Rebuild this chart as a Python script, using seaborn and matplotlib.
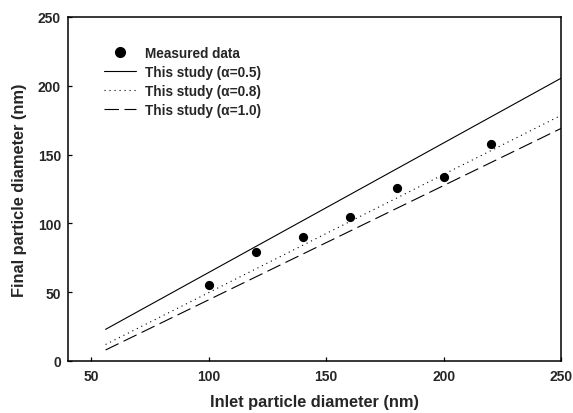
import matplotlib
matplotlib.use("Agg")
import matplotlib.pyplot as plt
import seaborn as sns
import pandas as pd
from matplotlib.lines import Line2D

# Data
meas_x = [100, 120, 140, 160, 180, 200, 220]
meas_y = [55, 79, 90, 105, 126, 134, 158]

line_x = [56, 250]
alpha05_y = [23, 205.5]
alpha08_y = [12, 178.5]
alpha10_y = [8, 169]

labels = ["Measured data", "This study (\u03b1=0.5)", "This study (\u03b1=0.8)", "This study (\u03b1=1.0)"]

sns.set_theme(style="ticks")
plt.rcParams['font.family'] = ['Liberation Sans', 'DejaVu Sans']
plt.rcParams['font.weight'] = 'bold'

fig = plt.figure(figsize=(5.73, 4.14), dpi=100)
ax = fig.add_axes([68/573, 1 - 362/414, (561-68)/573, (362-18)/414])

lines_df = pd.DataFrame({
    "x": line_x * 3,
    "y": alpha05_y + alpha08_y + alpha10_y,
    "series": [labels[1]] * 2 + [labels[2]] * 2 + [labels[3]] * 2,
})
dashes = {labels[1]: "", labels[2]: (1, 3.5), labels[3]: (13, 5)}
sns.lineplot(data=lines_df, x="x", y="y", style="series", dashes=dashes,
             color="black", linewidth=0.8, ax=ax, legend=False, sort=False)

meas_df = pd.DataFrame({"x": meas_x, "y": meas_y})
sns.scatterplot(data=meas_df, x="x", y="y", color="black", s=44,
                edgecolor="black", linewidth=0, ax=ax, legend=False, zorder=5)

ax.set_xlim(40, 250)
ax.set_ylim(0, 250)
ax.set_xticks([50, 100, 150, 200, 250])
ax.set_yticks([0, 50, 100, 150, 200, 250])

for s in ax.spines.values():
    s.set_linewidth(1.1)
    s.set_color("black")
ax.tick_params(direction="in", length=3, width=0.9, labelsize=10, color="black")
ax.tick_params(axis="x", pad=6)
ax.tick_params(axis="y", pad=5)
for t in ax.get_xticklabels() + ax.get_yticklabels():
    t.set_fontweight("bold")

ax.set_xlabel("Inlet particle diameter (nm)", fontsize=11.8, fontweight="bold", labelpad=8)
ax.set_ylabel("Final particle diameter (nm)", fontsize=11.8, fontweight="bold", labelpad=8)

handles = [
    Line2D([], [], marker="o", color="black", linestyle="none", markersize=7),
    Line2D([], [], color="black", linewidth=0.8),
    Line2D([], [], color="black", linewidth=0.8, dashes=(1, 3.5)),
    Line2D([], [], color="black", linewidth=0.8, dashes=(13, 5)),
]
leg = ax.legend(handles, labels, loc="upper left", bbox_to_anchor=(0.073, 0.915),
                frameon=False, fontsize=9.8, handlelength=2.35, handletextpad=0.65,
                labelspacing=0.36, borderpad=0, borderaxespad=0)
for t in leg.get_texts():
    t.set_fontweight("bold")

fig.savefig("out.png", dpi=100)
